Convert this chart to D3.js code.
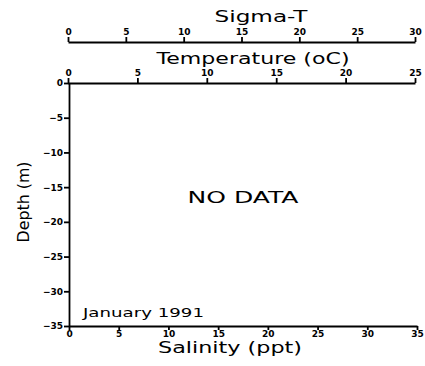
<!DOCTYPE html>
<html><head><meta charset="utf-8">
<script src="https://cdn.jsdelivr.net/npm/d3@7"></script>
<style>body{margin:0;background:#fff}svg{display:block}</style>
</head><body>
<script>
const sigmaTicks = [0,5,10,15,20,25,30];
const tempTicks = [0,5,10,15,20,25];
const salinityTicks = [0,5,10,15,20,25,30,35];
const depthTicks = [0,-5,-10,-15,-20,-25,-30,-35];
const sigmaDomain = [0,30], tempDomain=[0,25], salDomain=[0,35], depthDomain=[0,-35];
const titles = {sigma:"Sigma-T", temp:"Temperature (oC)", sal:"Salinity (ppt)", depth:"Depth (m)"};
const noDataText = "NO DATA", dateText = "January 1991";

const W=425,H=366;
const svg=d3.select("body").append("svg").attr("width",W).attr("height",H);
const font="DejaVu Sans";
const L=69, R=415, T=83, B=326;
const xSig=d3.scaleLinear().domain(sigmaDomain).range([68,R]);
const xTemp=d3.scaleLinear().domain(tempDomain).range([68,R]);
const xSal=d3.scaleLinear().domain(salDomain).range([L,417]);
const y=d3.scaleLinear().domain(depthDomain).range([T,B]);

function style(g){
  g.select(".domain").attr("stroke","#000").attr("stroke-width",1.8);
  g.selectAll(".tick line").attr("stroke","#000").attr("stroke-width",1.8);
  g.selectAll(".tick text").attr("font-family",font).attr("font-size",9).attr("font-weight","bold").attr("fill","#000");
}
const gS=svg.append("g").attr("transform",`translate(0,42)`).call(d3.axisTop(xSig).tickValues(sigmaTicks).tickSize(5).tickSizeOuter(0).tickPadding(2));
style(gS);
const gT=svg.append("g").attr("transform",`translate(0,${T})`).call(d3.axisTop(xTemp).tickValues(tempTicks).tickSize(5).tickSizeOuter(0).tickPadding(2));
style(gT);
const gB=svg.append("g").attr("transform",`translate(0,${B})`).call(d3.axisBottom(xSal).tickValues(salinityTicks).tickSize(4).tickSizeOuter(0).tickPadding(1));
style(gB);
const gL=svg.append("g").attr("transform",`translate(${L},0)`).call(d3.axisLeft(y).tickValues(depthTicks).tickSize(5).tickSizeOuter(0).tickPadding(1).tickFormat(d=>d===0?"0":"\u2212"+Math.abs(d)));
style(gL);

function txt(x,yy,s,size,len,anchor){
  return svg.append("text").attr("x",x).attr("y",yy).attr("font-family",font).attr("font-size",size)
   .attr("text-anchor",anchor||"middle").attr("fill","#000").attr("textLength",len).attr("lengthAdjust","spacingAndGlyphs").text(s);
}
txt(261,22,titles.sigma,15.5,93);
txt(253,64,titles.temp,15.5,193);
txt(230,353,titles.sal,15.5,144);
txt(243,203,noDataText,15,111);
txt(83,317,dateText,11.5,121,"start");
svg.append("text").attr("transform","translate(29,202) rotate(-90)").attr("font-family",font).attr("font-size",15)
 .attr("text-anchor","middle").attr("textLength",81).attr("lengthAdjust","spacingAndGlyphs").text(titles.depth);
</script>
</body></html>
